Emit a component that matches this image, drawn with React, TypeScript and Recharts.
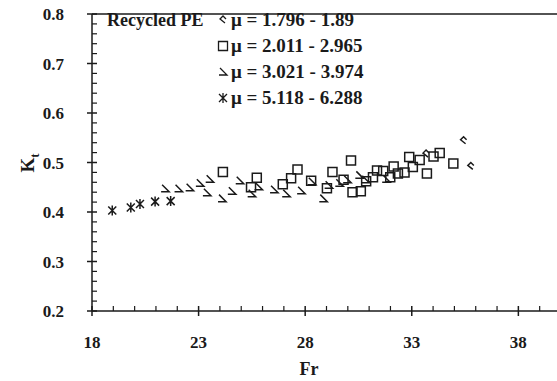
import React from 'react'
import { ScatterChart, Scatter, XAxis, YAxis, ReferenceLine, Legend } from 'recharts'

// Recycled PE: Kt against Froude number, grouped by viscosity range
const diamondFr = [33.67, 35.43, 35.77]
const diamondKt = [0.517, 0.544, 0.492]

const squareFr = [
  24.14, 25.46, 25.73, 26.95, 27.34, 27.64, 28.28, 29.02, 29.28, 29.8,
  30.15, 30.22, 30.61, 30.86, 31.18, 31.37, 31.66, 31.99, 32.15, 32.35,
  32.66, 33.05, 32.88, 33.37, 33.71, 34.02, 34.31, 34.95,
]
const squareKt = [
  0.481, 0.45, 0.469, 0.456, 0.468, 0.486, 0.463, 0.448, 0.481, 0.465,
  0.504, 0.44, 0.442, 0.462, 0.47, 0.484, 0.483, 0.47, 0.492, 0.478,
  0.48, 0.491, 0.511, 0.505, 0.478, 0.512, 0.519, 0.498,
]

const triangleFr = [
  21.43, 22.06, 22.58, 23.06, 23.52, 23.39, 24.1, 24.56, 24.93, 25.49, 25.81,
  26.54, 27.11, 27.81, 28.31, 28.85, 29.1, 29.6, 29.97, 30.54, 30.82, 31.8,
]
const triangleKt = [
  0.447, 0.447, 0.449, 0.458, 0.466, 0.439, 0.427, 0.442, 0.463, 0.437, 0.451,
  0.445, 0.437, 0.443, 0.461, 0.427, 0.454, 0.458, 0.465, 0.474, 0.465, 0.466,
]

const starFr = [18.95, 19.82, 20.25, 20.96, 21.69]
const starKt = [0.403, 0.409, 0.416, 0.421, 0.422]

const legendLabels = [
  'μ = 1.796 - 1.89',
  'μ = 2.011 - 2.965',
  'μ = 3.021 - 3.974',
  'μ = 5.118 - 6.288',
]

const xMajor = [18, 23, 28, 33, 38]
const yMajor = [0.2, 0.3, 0.4, 0.5, 0.6, 0.7, 0.8]

const xTicks = Array.from({ length: 23 }, (_, i) => 18 + i)
const yTicks = Array.from({ length: 31 }, (_, i) => Number((0.2 + i * 0.02).toFixed(2)))

const zip = (fr: number[], kt: number[]) => fr.map((x, i) => ({ fr: x, kt: kt[i] }))

const FONT = '"Liberation Serif", "Times New Roman", serif'
const INK = '#1a1a1a'

type Glyph = 'diamond' | 'square' | 'triangle' | 'star'

function glyphPath(kind: Glyph, cx: number, cy: number) {
  switch (kind) {
    case 'diamond':
      return `M${cx + 2},${cy + 3} L${cx - 3},${cy - 1} L${cx},${cy - 4} L${cx + 3},${cy - 1}`
    case 'square':
      return `M${cx - 4.5},${cy - 4.5} h9 v9 h-9 Z`
    case 'triangle':
      return `M${cx - 3},${cy - 4} L${cx + 4},${cy + 3} L${cx - 4},${cy + 3}`
    default:
      return `M${cx - 4},${cy - 4} L${cx + 4},${cy + 4} M${cx - 4},${cy + 4} L${cx + 4},${cy - 4} M${cx},${cy - 5} L${cx},${cy + 5}`
  }
}

const marker = (kind: Glyph) => (props: any) => (
  <path d={glyphPath(kind, props.cx, props.cy)} fill="none" stroke={INK} strokeWidth={1.5} />
)

const FrTick = ({ x, y, payload }: any) => {
  const v = payload.value
  const major = xMajor.includes(v)
  return (
    <g>
      {major ? (
        <line x1={x} x2={x} y1={y - 5} y2={y + 5} stroke={INK} strokeWidth={1.5} />
      ) : (
        <line x1={x} x2={x} y1={y} y2={y - 5} stroke={INK} strokeWidth={1.2} />
      )}
      {major && (
        <text x={x} y={y + 37} textAnchor="middle" fontFamily={FONT} fontWeight="bold" fontSize={17} fill={INK}>
          {v}
        </text>
      )}
    </g>
  )
}

const KtTick = ({ x, y, payload }: any) => {
  const v = payload.value
  const major = yMajor.some((m) => Math.abs(m - v) < 1e-6)
  return (
    <g>
      {major ? (
        <line x1={x - 5} x2={x + 5} y1={y} y2={y} stroke={INK} strokeWidth={1.5} />
      ) : (
        <line x1={x} x2={x + 5} y1={y} y2={y} stroke={INK} strokeWidth={1.2} />
      )}
      {major && (
        <text x={x - 28} y={y + 6} textAnchor="end" fontFamily={FONT} fontWeight="bold" fontSize={17} fill={INK}>
          {v.toFixed(1)}
        </text>
      )}
    </g>
  )
}

const glyphs: Glyph[] = ['diamond', 'square', 'triangle', 'star']

const LegendBox = () => (
  <div style={{ position: 'relative', fontFamily: FONT, fontWeight: 'bold', color: INK }}>
    <div style={{ position: 'absolute', left: 0, top: 0, whiteSpace: 'nowrap', lineHeight: '22px', fontSize: 18 }}>Recycled PE</div>
    {legendLabels.map((label, i) => (
      <div
        key={label}
        style={{
          position: 'absolute', left: 110, top: i * 26, whiteSpace: 'nowrap', lineHeight: '22px',
          display: 'flex', alignItems: 'center', fontSize: 19,
        }}
      >
        <svg width={12} height={12} style={{ marginRight: 2 }}>
          <path d={glyphPath(glyphs[i], 6, 6)} fill="none" stroke={INK} strokeWidth={1.3} />
        </svg>
        {label}
      </div>
    ))}
  </div>
)

const KtLabel = () => (
  <text transform="translate(34,163) rotate(-90)" textAnchor="middle" fontFamily={FONT} fontWeight="bold" fontSize={19} fill={INK}>
    K<tspan fontSize={13} dy={5}>t</tspan>
  </text>
)

const FrLabel = () => (
  <text x={309} y={375} textAnchor="middle" fontFamily={FONT} fontWeight="bold" fontSize={18} fill={INK}>
    Fr
  </text>
)

export default function App() {
  return (
    <div style={{ position: 'absolute', left: 0, top: 0, width: 557, height: 381, overflow: 'hidden', background: '#fff' }}>
      <ScatterChart width={566} height={381} margin={{ top: 14, right: 5, bottom: 0, left: 0 }}>
        <XAxis
          type="number"
          dataKey="fr"
          domain={[18, 40]}
          ticks={xTicks}
          interval={0}
          tickSize={0}
          tickMargin={0}
          tick={FrTick}
          height={70}
          stroke={INK}
          strokeWidth={1.5}
          label={<FrLabel />}
        />
        <YAxis
          type="number"
          dataKey="kt"
          domain={[0.2, 0.8]}
          ticks={yTicks}
          interval={0}
          tickSize={0}
          tickMargin={0}
          tick={KtTick}
          width={92}
          stroke={INK}
          strokeWidth={1.5}
          label={<KtLabel />}
        />
        <ReferenceLine y={0.8} stroke={INK} strokeWidth={1.5} />
        <Legend
          layout="horizontal"
          verticalAlign="middle"
          align="center"
          content={() => <LegendBox />}
          wrapperStyle={{ position: 'absolute', left: 107, top: 9, width: 320, height: 110 }}
        />
        <Scatter name="d" data={zip(diamondFr, diamondKt)} shape={marker('diamond')} isAnimationActive={false} />
        <Scatter name="s" data={zip(squareFr, squareKt)} shape={marker('square')} isAnimationActive={false} />
        <Scatter name="t" data={zip(triangleFr, triangleKt)} shape={marker('triangle')} isAnimationActive={false} />
        <Scatter name="x" data={zip(starFr, starKt)} shape={marker('star')} isAnimationActive={false} />
      </ScatterChart>
    </div>
  )
}
